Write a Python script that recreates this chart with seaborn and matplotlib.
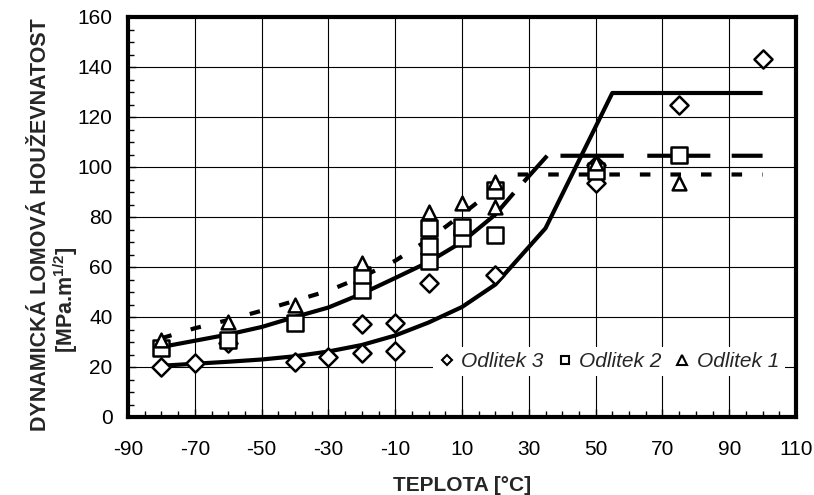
import matplotlib
matplotlib.use("Agg")
import matplotlib.pyplot as plt
from matplotlib.lines import Line2D
from matplotlib.ticker import MultipleLocator, FixedLocator
from matplotlib.font_manager import FontProperties
import seaborn as sns

# ---------------- data ----------------
# Odlitek 3 (diamonds)
d3_x = [-80, -70, -60, -40, -30, -20, -20, -10, -10, 0, 20, 50, 50, 75, 100]
d3_y = [20, 21.6, 29.5, 22, 24, 25.7, 37.2, 26.5, 37.6, 53.6, 56.8, 93.6, 101, 124.8, 143.2]
# Odlitek 2 (squares)
d2_x = [-80, -60, -40, -20, -20, 0, 0, 0, 10, 10, 20, 20, 50, 75]
d2_y = [27.6, 30.8, 37.7, 50.8, 57, 62.5, 68.5, 75.8, 71.5, 76, 72.8, 90.8, 98.5, 105]
# Odlitek 1 (triangles)
d1_x = [-80, -60, -40, -20, 0, 10, 20, 20, 50, 75]
d1_y = [30.8, 38, 45, 61.5, 82, 85.5, 84, 94, 101.5, 93.5]

# fitted curves
fit3_x = [-80, -70, -60, -50, -40, -30, -20, -10, 0, 10, 20, 35, 55, 100]
fit3_y = [20.5, 21.3, 22.1, 23, 24.3, 26.2, 28.8, 32.6, 37.8, 44, 53, 75.5, 129.6, 129.6]
fit2_x = [-80, -70, -60, -50, -40, -30, -20, -10, 0, 10, 20, 25.5]
fit2_y = [28, 30.5, 33, 36, 40, 43.8, 49.3, 55.6, 62, 70, 81, 89.6]
shelf2_x = [25.5, 35.5, 100]
shelf2_y = [89.6, 104.5, 104.5]
fit1_x = [-80, -70, -60, -50, -40, -30, -20, -10, 0, 10, 20, 26, 100]
fit1_y = [31.5, 35.5, 38.8, 42.5, 46.5, 50.5, 56, 62.5, 71, 81, 91.5, 97, 97]

labels = ["Odlitek 3", "Odlitek 2", "Odlitek 1"]
x_ticks = [-90, -70, -50, -30, -10, 10, 30, 50, 70, 90, 110]
y_ticks = [0, 20, 40, 60, 80, 100, 120, 140, 160]

# ---------------- style ----------------
sns.set_style("white")
plt.rcParams["font.family"] = ["Liberation Sans", "DejaVu Sans"]
plt.rcParams["axes.unicode_minus"] = False
plt.rcParams["lines.scale_dashes"] = False
plt.rcParams["mathtext.fontset"] = "custom"
plt.rcParams["mathtext.rm"] = "Liberation Sans"
plt.rcParams["mathtext.bf"] = "Liberation Sans:bold"
plt.rcParams["mathtext.it"] = "Liberation Sans:italic"

W, H = 814, 495
fig = plt.figure(figsize=(W / 100, H / 100), dpi=100)
ax = fig.add_axes([128 / W, 1 - 417 / H, 668 / W, 400 / H])

# fit lines
LW = 3
sns.lineplot(x=fit3_x, y=fit3_y, ax=ax, color="black", linewidth=LW, sort=False,
             estimator=None, legend=False, zorder=3)
ax.lines[-1].set_solid_capstyle("butt")
sns.lineplot(x=fit2_x, y=fit2_y, ax=ax, color="black", linewidth=LW, sort=False,
             estimator=None, legend=False, zorder=3)
ax.lines[-1].set_solid_capstyle("butt")
sns.lineplot(x=shelf2_x, y=shelf2_y, ax=ax, color="black", linewidth=LW, sort=False,
             estimator=None, legend=False, zorder=3)
seq = [25.2, 9.6, 45.6, 16.9, 45.4, 15.4, 45.4, 10.8]
ax.lines[-1].set_linestyle((sum(seq) - 10.8, seq))
sns.lineplot(x=fit1_x, y=fit1_y, ax=ax, color="black", linewidth=LW, sort=False,
             estimator=None, legend=False, zorder=3)
ax.lines[-1].set_linestyle((0, (7.6, 14.4)))

# markers
MEW = 1.8
sns.scatterplot(x=d3_x, y=d3_y, marker="D", s=85, facecolor="white", edgecolor="black",
                linewidth=MEW, ax=ax, zorder=4, legend=False)
sns.scatterplot(x=d2_x, y=d2_y, marker="s", s=117, facecolor="white", edgecolor="black",
                linewidth=MEW, ax=ax, zorder=5, legend=False)
sns.scatterplot(x=d1_x, y=d1_y, marker="^", s=98, facecolor="white", edgecolor="black",
                linewidth=MEW, ax=ax, zorder=6, legend=False)

# axes
ax.set_xlim(-90, 110)
ax.set_ylim(0, 160)
ax.xaxis.set_major_locator(FixedLocator(x_ticks))
ax.yaxis.set_major_locator(FixedLocator(y_ticks))
ax.xaxis.set_minor_locator(MultipleLocator(5))
ax.yaxis.set_minor_locator(MultipleLocator(5))
ax.set_xticklabels([str(v) for v in x_ticks])
ax.set_yticklabels([str(v) for v in y_ticks])
ax.tick_params(which="both", direction="in", left=True, bottom=True, top=False,
               right=False, colors="black")
ax.tick_params(which="major", length=6, width=1, labelsize=15)
ax.tick_params(which="minor", length=4, width=1)
ax.tick_params(axis="x", which="major", pad=16.5)
ax.tick_params(axis="y", which="major", pad=11)
ax.set_axisbelow(True)
ax.grid(True, which="major", color="black", linewidth=0.8)
for sp in ax.spines.values():
    sp.set_visible(True)
    sp.set_color("black")
    sp.set_linewidth(3)

ax.set_xlabel("TEPLOTA [°C]", fontsize=15, fontweight="bold")
ax.xaxis.set_label_coords(0.5, -(476 - 417) / 400)
ax.set_ylabel("DYNAMICKÁ LOMOVÁ HOUŽEVNATOST", fontsize=15.5, fontweight="bold")
ax.yaxis.set_label_coords((51.5 - 128) / 668, (417 - 225) / 400)
ax.text((80 - 128) / 668, (417 - 300) / 400, r"[MPa.m$^{\mathbf{1/2}}$]",
        transform=ax.transAxes, rotation=90, rotation_mode="anchor",
        ha="center", va="bottom", fontsize=15.5, fontweight="bold")

# legend
handles = [
    Line2D([], [], marker="D", ls="none", mfc="white", mec="black", mew=1.5, ms=5.5),
    Line2D([], [], marker="s", ls="none", mfc="white", mec="black", mew=1.5, ms=6.4),
    Line2D([], [], marker="^", ls="none", mfc="white", mec="black", mew=1.5, ms=7),
]
leg = ax.legend(handles, labels, ncol=3, loc="center", bbox_to_anchor=(0.72, 0.139),
                frameon=True, facecolor="white", edgecolor="none", framealpha=1,
                fancybox=False, handlelength=0.8, handletextpad=0.3,
                columnspacing=0.6, borderpad=0.25,
                prop=FontProperties(family="Liberation Sans", style="italic", size=15))
leg.set_zorder(10)

fig.savefig("out.png", dpi=100)
